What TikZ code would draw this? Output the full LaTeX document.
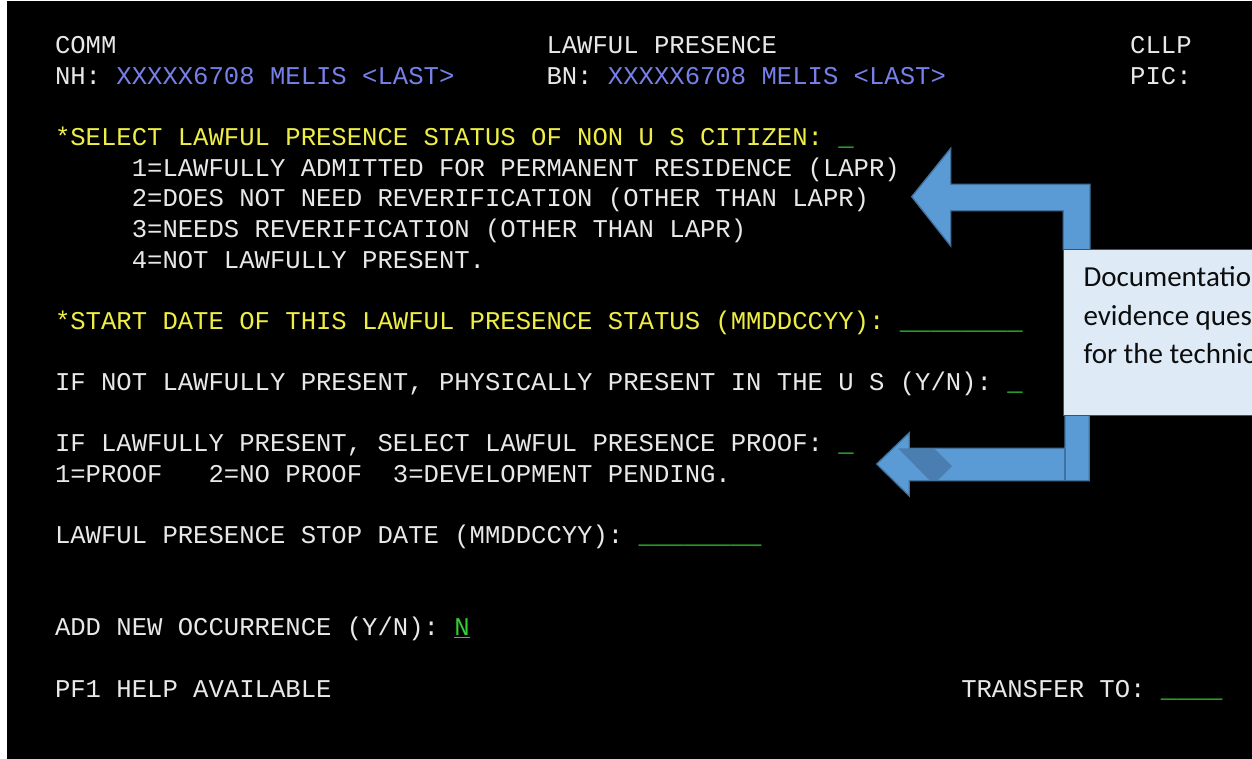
\documentclass[tikz,border=0pt]{standalone}
\usepackage{fontspec}
\newfontfamily\termfont{Liberation Mono}
\newfontfamily\calib{Carlito}
\definecolor{termwhite}{RGB}{232,232,232}
\definecolor{termyellow}{RGB}{238,238,70}
\definecolor{termblue}{RGB}{118,128,232}
\definecolor{termgreen}{RGB}{50,205,50}
\definecolor{arrowfill}{RGB}{91,155,213}
\definecolor{arrowline}{RGB}{65,113,156}
\definecolor{arrowdark}{RGB}{72,122,170}
\definecolor{notefill}{RGB}{222,235,247}
\definecolor{noteline}{RGB}{80,80,80}
\tikzset{
  scr/.style={anchor=base west, inner sep=0pt, outer sep=0pt,
    font=\termfont\fontsize{25.6}{30}\selectfont},
  wt/.style={scr, text=termwhite},
  yl/.style={scr, text=termyellow},
  bl/.style={scr, text=termblue},
  gr/.style={scr, text=termgreen},
  bigarrow/.style={fill=arrowfill, draw=arrowline, line width=1.3pt, line join=miter},
  notebox/.style={fill=notefill, draw=noteline, line width=0.8pt},
  notetext/.style={anchor=base west, inner sep=0pt, text=black!95,
    font=\calib\fontsize{29}{38}\selectfont}
}
\begin{document}
\begin{tikzpicture}[x=1pt,y=-1pt]
\useasboundingbox (0,0) rectangle (1252,759);
\fill[white] (0,0) rectangle (1252,759);
\fill[black] (7,1) rectangle (1252,759);

% terminal screen text on a character grid
\begin{scope}[shift={(55,53.5)}, x=15.36pt, y=-30.65pt]
  \node[wt] (comm) at (0,0) {COMM};
  \node[wt] (title) at (32,0) {LAWFUL PRESENCE};
  \node[wt] (cllp) at (70,0) {CLLP};
  \node[wt] (nh) at (0,1) {NH:};
  \node[bl] (nhval) at (4,1) {XXXXX6708 MELIS <LAST>};
  \node[wt] (bn) at (32,1) {BN:};
  \node[bl] (bnval) at (36,1) {XXXXX6708 MELIS <LAST>};
  \node[wt] (pic) at (70,1) {PIC:};

  \node[yl] (q1) at (0,3) {*SELECT LAWFUL PRESENCE STATUS OF NON U S CITIZEN:};
  \node[gr] (f1) at (51,3) {\_};
  \node[wt] (o1) at (5,4) {1=LAWFULLY ADMITTED FOR PERMANENT RESIDENCE (LAPR)};
  \node[wt] (o2) at (5,5) {2=DOES NOT NEED REVERIFICATION (OTHER THAN LAPR)};
  \node[wt] (o3) at (5,6) {3=NEEDS REVERIFICATION (OTHER THAN LAPR)};
  \node[wt] (o4) at (5,7) {4=NOT LAWFULLY PRESENT.};

  \node[yl] (q2) at (0,9) {*START DATE OF THIS LAWFUL PRESENCE STATUS (MMDDCCYY):};
  \node[gr] (f2) at (55,9) {\_\_\_\_\_\_\_\_};

  \node[wt] (q3) at (0,11) {IF NOT LAWFULLY PRESENT, PHYSICALLY PRESENT IN THE U S (Y/N):};
  \node[gr] (f3) at (62,11) {\_};

  \node[wt] (q4) at (0,13) {IF LAWFULLY PRESENT, SELECT LAWFUL PRESENCE PROOF:};
  \node[gr] (f4) at (51,13) {\_};
  \node[wt] (p1) at (0,14) {1=PROOF};
  \node[wt] (p2) at (10,14) {2=NO PROOF};
  \node[wt] (p3) at (22,14) {3=DEVELOPMENT PENDING.};

  \node[wt] (q5) at (0,16) {LAWFUL PRESENCE STOP DATE (MMDDCCYY):};
  \node[gr] (f5) at (38,16) {\_\_\_\_\_\_\_\_};

  \node[wt] (q6) at (0,19) {ADD NEW OCCURRENCE (Y/N):};
  \node[gr] (f6) at (26,19) {\underline{N}};

  \node[wt] (help) at (0,21) {PF1 HELP AVAILABLE};
  \node[wt] (xfer) at (59,21) {TRANSFER TO:};
  \node[gr] (f7) at (72,21) {\_\_\_\_};
\end{scope}

% upper bent arrow
\fill[bigarrow] (911.7,196.7) -- (950.7,148.3) -- (950.7,184.3) -- (1090,184.3)
  -- (1090,250) -- (1063.3,250) -- (1063.3,210.7) -- (950.7,210.7)
  -- (950.7,246) -- cycle;

% lower bent arrow
\fill[bigarrow] (876.7,464) -- (909.3,432.7) -- (909.3,448.3) -- (1065,448.3)
  -- (1065,415) -- (1089.3,415) -- (1089.3,480.7) -- (909.3,480.7)
  -- (909.3,496) -- cycle;
\fill[arrowdark, opacity=0.85] (898,448.3) -- (934,448.3) -- (952,466)
  -- (937.5,480.7) -- (930,480.7) -- cycle;
\draw[arrowline, line width=1.3pt] (1065,448.3) -- (1065,480.7);

% callout box (cut by the right edge)
\begin{scope}
  \clip (0,0) rectangle (1252,759);
  \filldraw[notebox] (1063.3,249.5) rectangle (1280,415);
  \node[notetext] (note1) at (1083.3,286.7) {Documentatio};
  \node[notetext] (note2) at (1083.3,325) {evidence ques};
  \node[notetext] (note3) at (1083.3,363.3) {for the technic};
\end{scope}
\end{tikzpicture}
\end{document}
